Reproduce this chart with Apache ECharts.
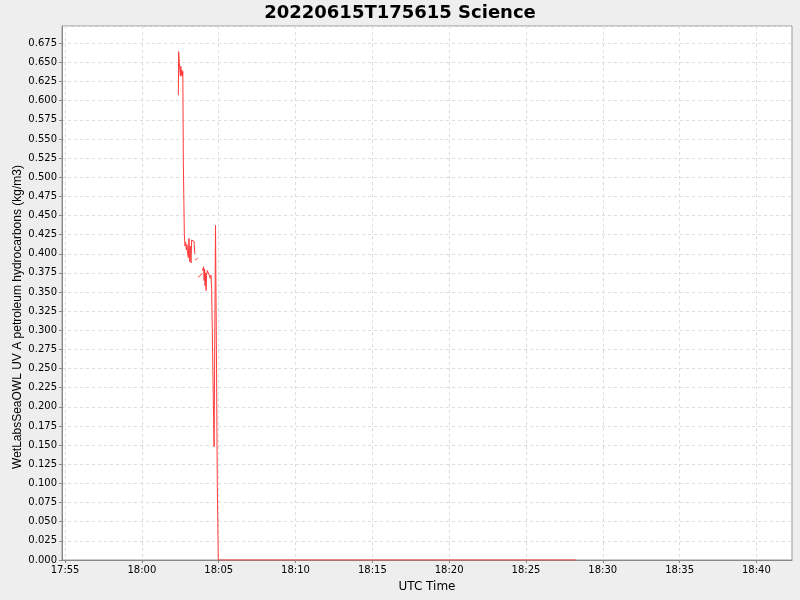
<!DOCTYPE html>
<html>
<head>
<meta charset="utf-8">
<script src="https://cdn.jsdelivr.net/npm/echarts@6/dist/echarts.min.js"></script>
<style>
html,body{margin:0;padding:0;background:#eeeeee;}
#chart{width:800px;height:600px;}
</style>
</head>
<body>
<div id="chart"></div>
<script>
// seconds after 2022-06-15 18:00:00 UTC (null value = gap)
const secondsAfter1800 = [
  142.4, 143.5, 146.3, 148.2, 150.2, 152.1, 154.1, 156.0, 158.0, 159.9, 161.9,
  165.8, 168.5, 170.9, 173.6, 176.3, 178.7, 181.4, 184.1, 186.4, 189.2, 191.9, 194.2, 197.0, 200.9, 203.6, 206.7,
  207.7,
  208.7, 217.7,
  218.2,
  218.8, 236.0,
  236.6,
  237.2, 239.1, 241.1, 243.0, 245.0, 246.9, 248.9, 250.8, 252.8, 255.5, 259.4, 263.3, 267.2, 269.9, 272.3,
  275.0, 278.9, 282.0, 287.5, 290.6, 294.5, 298.4, 1695.0
];
const hydrocarbons = [
  0.607, 0.664, 0.650, 0.640, 0.632, 0.645, 0.633, 0.640, 0.632, 0.638, 0.520,
  0.425, 0.410, 0.415, 0.405, 0.412, 0.400, 0.395, 0.420, 0.390, 0.410, 0.388, 0.418, 0.416, 0.418, 0.416, 0.400,
  null,
  0.392, 0.394,
  null,
  0.369, 0.374,
  null,
  0.381, 0.378, 0.383, 0.365, 0.380, 0.358, 0.375, 0.352, 0.372, 0.378, 0.376, 0.372, 0.368, 0.372, 0.355,
  0.300, 0.210, 0.148, 0.437, 0.300, 0.100, 0.000, 0.000
];
// x tick labels (UTC, every 5 minutes)
const xTickLabels = ['17:55', '18:00', '18:05', '18:10', '18:15', '18:20', '18:25', '18:30', '18:35', '18:40'];
const title = '20220615T175615 Science';
const yName = 'WetLabsSeaOWL UV A petroleum hydrocarbons (kg/m3)';
const xName = 'UTC Time';

function hmToMs(s){const p = s.split(':'); return Date.UTC(2022, 5, 15, +p[0], +p[1], 0);}
const base = Date.UTC(2022, 5, 15, 18, 0, 0);
const data = secondsAfter1800.map((s, i) => [base + s * 1000, hydrocarbons[i]]);
const xTickValues = xTickLabels.map(hmToMs);
const xMin = Date.UTC(2022, 5, 15, 17, 54, 48);
const xMax = Date.UTC(2022, 5, 15, 18, 42, 19);

function pad(n){return n < 10 ? '0' + n : '' + n;}

const chart = echarts.init(document.getElementById('chart'), null, {renderer: 'canvas'});
chart.setOption({
  backgroundColor: '#eeeeee',
  animation: false,
  title: {
    text: title, left: 'center', top: -1,
    textStyle: {fontFamily: 'DejaVu Sans', fontSize: 18, fontWeight: 'bold', color: '#000'}
  },
  grid: {left: 62, right: 8, top: 26, bottom: 40, containLabel: false, outerBoundsMode: 'none',
         show: true, backgroundColor: '#ffffff', borderColor: '#999999', borderWidth: 1},
  xAxis: {
    type: 'value', min: xMin, max: xMax,
    name: xName, nameLocation: 'middle', nameGap: 21, nameMoveOverlap: false,
    nameTextStyle: {fontFamily: 'DejaVu Sans', fontSize: 12, color: '#000'},
    axisLine: {show: true, lineStyle: {color: '#888888'}},
    axisTick: {show: true, length: 3, customValues: xTickValues, lineStyle: {color: '#888888'}},
    axisLabel: {
      fontFamily: 'DejaVu Sans', fontSize: 10, color: '#000', margin: 5,
      customValues: xTickValues,
      formatter: function(v){const d = new Date(v); return pad(d.getUTCHours()) + ':' + pad(d.getUTCMinutes());}
    },
    splitLine: {show: true, lineStyle: {color: '#dddddd', type: [3, 3]}}
  },
  yAxis: {
    type: 'value', min: 0, max: 0.6975, interval: 0.025,
    name: yName, nameLocation: 'middle', nameGap: 38, nameMoveOverlap: false,
    nameTextStyle: {fontFamily: 'Liberation Sans', fontSize: 12, color: '#000', padding: [0, 48, 0, 0]},
    axisLine: {show: true, lineStyle: {color: '#888888'}},
    axisTick: {show: true, length: 3, lineStyle: {color: '#888888'}},
    axisLabel: {
      fontFamily: 'DejaVu Sans', fontSize: 10, color: '#000', margin: 5,
      showMaxLabel: false,
      formatter: function(v){return v.toFixed(3);}
    },
    splitLine: {show: true, lineStyle: {color: '#dddddd', type: [3, 3]}}
  },
  series: [{
    type: 'line', data: data, showSymbol: false, connectNulls: false,
    lineStyle: {color: '#ff3b3b', width: 1}, itemStyle: {color: '#ff3b3b'}
  }]
});
</script>
</body>
</html>
